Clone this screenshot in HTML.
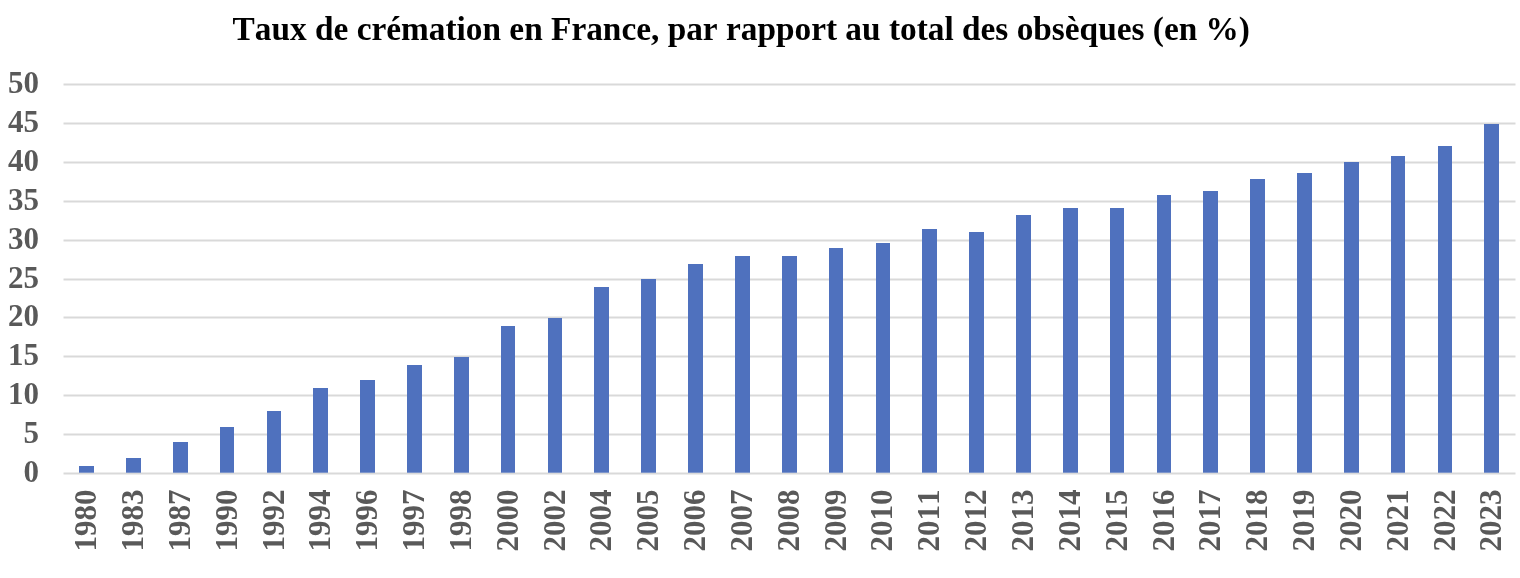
<!DOCTYPE html>
<html lang="fr"><head><meta charset="utf-8"><title>Taux de crémation en France</title>
<style>
html,body{margin:0;padding:0;background:#fff;}
body{width:1520px;height:578px;overflow:hidden;}
svg{display:block;}
text{font-kerning:none;font-family:"Liberation Serif","Times New Roman",serif;font-weight:bold;}
.t{font-size:33.33px;fill:#000;}
.a{font-size:31px;fill:#595959;}
</style></head><body>
<svg width="1520" height="578" viewBox="0 0 1520 578">
<rect width="1520" height="578" fill="#fff"/>
<line x1="63.5" x2="1515.5" y1="473.50" y2="473.50" stroke="#d9d9d9" stroke-width="2"/>
<line x1="63.5" x2="1515.5" y1="434.50" y2="434.50" stroke="#d9d9d9" stroke-width="2"/>
<line x1="63.5" x2="1515.5" y1="395.50" y2="395.50" stroke="#d9d9d9" stroke-width="2"/>
<line x1="63.5" x2="1515.5" y1="356.50" y2="356.50" stroke="#d9d9d9" stroke-width="2"/>
<line x1="63.5" x2="1515.5" y1="317.50" y2="317.50" stroke="#d9d9d9" stroke-width="2"/>
<line x1="63.5" x2="1515.5" y1="279.50" y2="279.50" stroke="#d9d9d9" stroke-width="2"/>
<line x1="63.5" x2="1515.5" y1="240.50" y2="240.50" stroke="#d9d9d9" stroke-width="2"/>
<line x1="63.5" x2="1515.5" y1="201.50" y2="201.50" stroke="#d9d9d9" stroke-width="2"/>
<line x1="63.5" x2="1515.5" y1="162.50" y2="162.50" stroke="#d9d9d9" stroke-width="2"/>
<line x1="63.5" x2="1515.5" y1="123.50" y2="123.50" stroke="#d9d9d9" stroke-width="2"/>
<line x1="63.5" x2="1515.5" y1="84.50" y2="84.50" stroke="#d9d9d9" stroke-width="2"/>
<rect x="79" y="466" width="15" height="6.7" fill="#4f71be"/>
<rect x="126" y="458" width="15" height="14.7" fill="#4f71be"/>
<rect x="173" y="442" width="15" height="30.7" fill="#4f71be"/>
<rect x="220" y="427" width="14" height="45.7" fill="#4f71be"/>
<rect x="267" y="411" width="14" height="61.7" fill="#4f71be"/>
<rect x="313" y="388" width="15" height="84.7" fill="#4f71be"/>
<rect x="360" y="380" width="15" height="92.7" fill="#4f71be"/>
<rect x="407" y="365" width="15" height="107.7" fill="#4f71be"/>
<rect x="454" y="357" width="15" height="115.7" fill="#4f71be"/>
<rect x="501" y="326" width="14" height="146.7" fill="#4f71be"/>
<rect x="548" y="318" width="14" height="154.7" fill="#4f71be"/>
<rect x="594" y="287" width="15" height="185.7" fill="#4f71be"/>
<rect x="641" y="279" width="15" height="193.7" fill="#4f71be"/>
<rect x="688" y="264" width="15" height="208.7" fill="#4f71be"/>
<rect x="735" y="256" width="15" height="216.7" fill="#4f71be"/>
<rect x="782" y="256" width="15" height="216.7" fill="#4f71be"/>
<rect x="829" y="248" width="14" height="224.7" fill="#4f71be"/>
<rect x="876" y="243" width="14" height="229.7" fill="#4f71be"/>
<rect x="922" y="229" width="15" height="243.7" fill="#4f71be"/>
<rect x="969" y="232" width="15" height="240.7" fill="#4f71be"/>
<rect x="1016" y="215" width="15" height="257.7" fill="#4f71be"/>
<rect x="1063" y="208" width="15" height="264.7" fill="#4f71be"/>
<rect x="1110" y="208" width="14" height="264.7" fill="#4f71be"/>
<rect x="1157" y="195" width="14" height="277.7" fill="#4f71be"/>
<rect x="1203" y="191" width="15" height="281.7" fill="#4f71be"/>
<rect x="1250" y="179" width="15" height="293.7" fill="#4f71be"/>
<rect x="1297" y="173" width="15" height="299.7" fill="#4f71be"/>
<rect x="1344" y="162" width="15" height="310.7" fill="#4f71be"/>
<rect x="1391" y="156" width="14" height="316.7" fill="#4f71be"/>
<rect x="1438" y="146" width="14" height="326.7" fill="#4f71be"/>
<rect x="1484" y="124" width="15" height="348.7" fill="#4f71be"/>
<text class="a" x="39.0" y="481.60" text-anchor="end">0</text>
<text class="a" x="39.0" y="442.60" text-anchor="end">5</text>
<text class="a" x="39.0" y="403.60" text-anchor="end">10</text>
<text class="a" x="39.0" y="364.60" text-anchor="end">15</text>
<text class="a" x="39.0" y="325.60" text-anchor="end">20</text>
<text class="a" x="39.0" y="287.60" text-anchor="end">25</text>
<text class="a" x="39.0" y="248.60" text-anchor="end">30</text>
<text class="a" x="39.0" y="209.60" text-anchor="end">35</text>
<text class="a" x="39.0" y="170.60" text-anchor="end">40</text>
<text class="a" x="39.0" y="131.60" text-anchor="end">45</text>
<text class="a" x="39.0" y="92.60" text-anchor="end">50</text>
<text class="a" transform="translate(96.18,489.6) rotate(-90)" text-anchor="end">1980</text>
<text class="a" transform="translate(143.02,489.6) rotate(-90)" text-anchor="end">1983</text>
<text class="a" transform="translate(189.86,489.6) rotate(-90)" text-anchor="end">1987</text>
<text class="a" transform="translate(236.70,489.6) rotate(-90)" text-anchor="end">1990</text>
<text class="a" transform="translate(283.54,489.6) rotate(-90)" text-anchor="end">1992</text>
<text class="a" transform="translate(330.38,489.6) rotate(-90)" text-anchor="end">1994</text>
<text class="a" transform="translate(377.22,489.6) rotate(-90)" text-anchor="end">1996</text>
<text class="a" transform="translate(424.06,489.6) rotate(-90)" text-anchor="end">1997</text>
<text class="a" transform="translate(470.90,489.6) rotate(-90)" text-anchor="end">1998</text>
<text class="a" transform="translate(517.74,489.6) rotate(-90)" text-anchor="end">2000</text>
<text class="a" transform="translate(564.58,489.6) rotate(-90)" text-anchor="end">2002</text>
<text class="a" transform="translate(611.42,489.6) rotate(-90)" text-anchor="end">2004</text>
<text class="a" transform="translate(658.26,489.6) rotate(-90)" text-anchor="end">2005</text>
<text class="a" transform="translate(705.10,489.6) rotate(-90)" text-anchor="end">2006</text>
<text class="a" transform="translate(751.94,489.6) rotate(-90)" text-anchor="end">2007</text>
<text class="a" transform="translate(798.78,489.6) rotate(-90)" text-anchor="end">2008</text>
<text class="a" transform="translate(845.62,489.6) rotate(-90)" text-anchor="end">2009</text>
<text class="a" transform="translate(892.46,489.6) rotate(-90)" text-anchor="end">2010</text>
<text class="a" transform="translate(939.30,489.6) rotate(-90)" text-anchor="end">2011</text>
<text class="a" transform="translate(986.14,489.6) rotate(-90)" text-anchor="end">2012</text>
<text class="a" transform="translate(1032.98,489.6) rotate(-90)" text-anchor="end">2013</text>
<text class="a" transform="translate(1079.82,489.6) rotate(-90)" text-anchor="end">2014</text>
<text class="a" transform="translate(1126.66,489.6) rotate(-90)" text-anchor="end">2015</text>
<text class="a" transform="translate(1173.50,489.6) rotate(-90)" text-anchor="end">2016</text>
<text class="a" transform="translate(1220.34,489.6) rotate(-90)" text-anchor="end">2017</text>
<text class="a" transform="translate(1267.18,489.6) rotate(-90)" text-anchor="end">2018</text>
<text class="a" transform="translate(1314.02,489.6) rotate(-90)" text-anchor="end">2019</text>
<text class="a" transform="translate(1360.86,489.6) rotate(-90)" text-anchor="end">2020</text>
<text class="a" transform="translate(1407.70,489.6) rotate(-90)" text-anchor="end">2021</text>
<text class="a" transform="translate(1454.54,489.6) rotate(-90)" text-anchor="end">2022</text>
<text class="a" transform="translate(1501.38,489.6) rotate(-90)" text-anchor="end">2023</text>
<text class="t" x="232.6" y="39.8">Taux de crémation en France, par rapport au total des obsèques (en %)</text>
</svg></body></html>
